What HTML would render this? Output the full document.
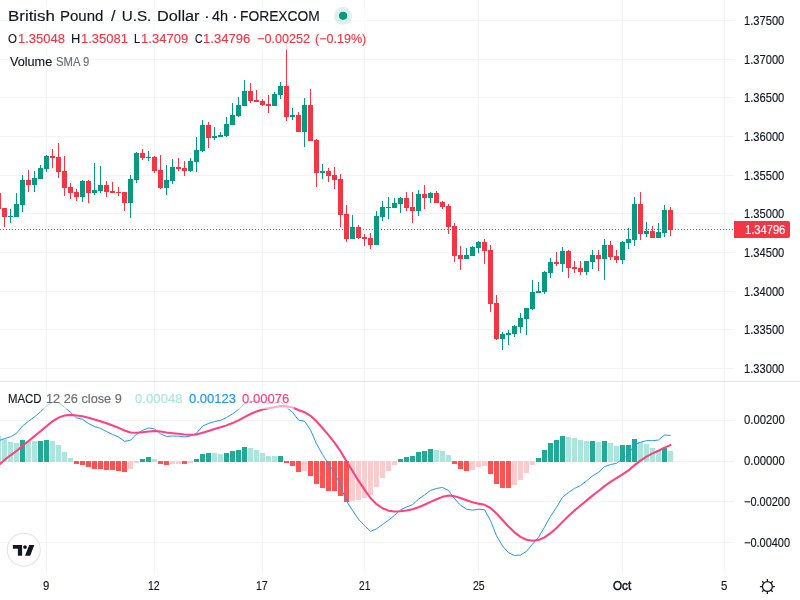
<!DOCTYPE html><html><head><meta charset="utf-8"><title>GBPUSD</title><style>
html,body{margin:0;padding:0;background:#fff;}
body{width:800px;height:600px;overflow:hidden;position:relative;font-family:"Liberation Sans",sans-serif;color:#131722;}
svg{position:absolute;left:0;top:0;}
.t{position:absolute;white-space:pre;transform-origin:0 0;line-height:1;-webkit-text-stroke:0.15px currentColor;}
.ov{position:absolute;background:rgba(255,255,255,0.55);}
</style></head><body>
<svg width="800" height="600" viewBox="0 0 800 600">
<g shape-rendering="crispEdges">
<rect x="0" y="20" width="734" height="1" fill="#f2f3f5"/>
<rect x="0" y="59" width="734" height="1" fill="#f2f3f5"/>
<rect x="0" y="97" width="734" height="1" fill="#f2f3f5"/>
<rect x="0" y="136" width="734" height="1" fill="#f2f3f5"/>
<rect x="0" y="175" width="734" height="1" fill="#f2f3f5"/>
<rect x="0" y="213" width="734" height="1" fill="#f2f3f5"/>
<rect x="0" y="252" width="734" height="1" fill="#f2f3f5"/>
<rect x="0" y="291" width="734" height="1" fill="#f2f3f5"/>
<rect x="0" y="329" width="734" height="1" fill="#f2f3f5"/>
<rect x="0" y="368" width="734" height="1" fill="#f2f3f5"/>
<rect x="0" y="420" width="734" height="1" fill="#f2f3f5"/>
<rect x="0" y="461" width="734" height="1" fill="#f2f3f5"/>
<rect x="0" y="501" width="734" height="1" fill="#f2f3f5"/>
<rect x="0" y="542" width="734" height="1" fill="#f2f3f5"/>
<rect x="46" y="0" width="1" height="572" fill="#f2f3f5"/>
<rect x="154" y="0" width="1" height="572" fill="#f2f3f5"/>
<rect x="262" y="0" width="1" height="572" fill="#f2f3f5"/>
<rect x="364" y="0" width="1" height="572" fill="#f2f3f5"/>
<rect x="478" y="0" width="1" height="572" fill="#f2f3f5"/>
<rect x="622" y="0" width="1" height="572" fill="#f2f3f5"/>
<rect x="724" y="0" width="1" height="572" fill="#f2f3f5"/>
<rect x="0" y="381" width="800" height="1" fill="#e0e3eb"/>
<rect x="-4" y="436" width="5" height="26" fill="#ACE5DC"/>
<rect x="2" y="439" width="5" height="23" fill="#ACE5DC"/>
<rect x="8" y="442" width="5" height="20" fill="#ACE5DC"/>
<rect x="14" y="443" width="5" height="19" fill="#ACE5DC"/>
<rect x="20" y="440" width="5" height="22" fill="#22AB94"/>
<rect x="26" y="441" width="5" height="21" fill="#ACE5DC"/>
<rect x="32" y="441" width="5" height="21" fill="#ACE5DC"/>
<rect x="38" y="441" width="5" height="21" fill="#22AB94"/>
<rect x="44" y="440" width="5" height="22" fill="#22AB94"/>
<rect x="50" y="441" width="5" height="21" fill="#ACE5DC"/>
<rect x="56" y="445" width="5" height="17" fill="#ACE5DC"/>
<rect x="62" y="452" width="5" height="10" fill="#ACE5DC"/>
<rect x="68" y="458" width="5" height="4" fill="#ACE5DC"/>
<rect x="74" y="461" width="5" height="3" fill="#FF5252"/>
<rect x="80" y="461" width="5" height="4" fill="#FF5252"/>
<rect x="86" y="461" width="5" height="6" fill="#FF5252"/>
<rect x="92" y="461" width="5" height="8" fill="#FF5252"/>
<rect x="98" y="461" width="5" height="8" fill="#FF5252"/>
<rect x="104" y="461" width="5" height="9" fill="#FF5252"/>
<rect x="110" y="461" width="5" height="9" fill="#FF5252"/>
<rect x="116" y="461" width="5" height="10" fill="#FF5252"/>
<rect x="122" y="461" width="5" height="11" fill="#FF5252"/>
<rect x="128" y="461" width="5" height="8" fill="#FCCBCD"/>
<rect x="134" y="461" width="5" height="2" fill="#FCCBCD"/>
<rect x="140" y="459" width="5" height="3" fill="#22AB94"/>
<rect x="146" y="457" width="5" height="5" fill="#22AB94"/>
<rect x="152" y="459" width="5" height="3" fill="#ACE5DC"/>
<rect x="158" y="461" width="5" height="3" fill="#FF5252"/>
<rect x="164" y="461" width="5" height="4" fill="#FF5252"/>
<rect x="170" y="461" width="5" height="3" fill="#FCCBCD"/>
<rect x="176" y="461" width="5" height="3" fill="#FCCBCD"/>
<rect x="182" y="461" width="5" height="3" fill="#FF5252"/>
<rect x="188" y="461" width="5" height="2" fill="#FCCBCD"/>
<rect x="194" y="459" width="5" height="3" fill="#22AB94"/>
<rect x="200" y="454" width="5" height="8" fill="#22AB94"/>
<rect x="206" y="453" width="5" height="9" fill="#22AB94"/>
<rect x="212" y="453" width="5" height="9" fill="#ACE5DC"/>
<rect x="218" y="454" width="5" height="8" fill="#ACE5DC"/>
<rect x="224" y="453" width="5" height="9" fill="#22AB94"/>
<rect x="230" y="451" width="5" height="11" fill="#22AB94"/>
<rect x="236" y="450" width="5" height="12" fill="#22AB94"/>
<rect x="242" y="447" width="5" height="15" fill="#22AB94"/>
<rect x="248" y="448" width="5" height="14" fill="#ACE5DC"/>
<rect x="254" y="450" width="5" height="12" fill="#ACE5DC"/>
<rect x="260" y="453" width="5" height="9" fill="#ACE5DC"/>
<rect x="266" y="456" width="5" height="6" fill="#ACE5DC"/>
<rect x="272" y="456" width="5" height="6" fill="#ACE5DC"/>
<rect x="278" y="456" width="5" height="6" fill="#22AB94"/>
<rect x="284" y="461" width="5" height="2" fill="#FF5252"/>
<rect x="290" y="461" width="5" height="5" fill="#FF5252"/>
<rect x="296" y="461" width="5" height="11" fill="#FF5252"/>
<rect x="302" y="461" width="5" height="10" fill="#FCCBCD"/>
<rect x="308" y="461" width="5" height="15" fill="#FF5252"/>
<rect x="314" y="461" width="5" height="23" fill="#FF5252"/>
<rect x="320" y="461" width="5" height="27" fill="#FF5252"/>
<rect x="326" y="461" width="5" height="30" fill="#FF5252"/>
<rect x="332" y="461" width="5" height="30" fill="#FF5252"/>
<rect x="338" y="461" width="5" height="35" fill="#FF5252"/>
<rect x="344" y="461" width="5" height="41" fill="#FF5252"/>
<rect x="350" y="461" width="5" height="40" fill="#FCCBCD"/>
<rect x="356" y="461" width="5" height="39" fill="#FCCBCD"/>
<rect x="362" y="461" width="5" height="37" fill="#FCCBCD"/>
<rect x="368" y="461" width="5" height="34" fill="#FCCBCD"/>
<rect x="374" y="461" width="5" height="26" fill="#FCCBCD"/>
<rect x="380" y="461" width="5" height="17" fill="#FCCBCD"/>
<rect x="386" y="461" width="5" height="10" fill="#FCCBCD"/>
<rect x="392" y="461" width="5" height="4" fill="#FCCBCD"/>
<rect x="398" y="459" width="5" height="3" fill="#22AB94"/>
<rect x="404" y="457" width="5" height="5" fill="#22AB94"/>
<rect x="410" y="456" width="5" height="6" fill="#22AB94"/>
<rect x="416" y="452" width="5" height="10" fill="#22AB94"/>
<rect x="422" y="451" width="5" height="11" fill="#22AB94"/>
<rect x="428" y="449" width="5" height="13" fill="#22AB94"/>
<rect x="434" y="450" width="5" height="12" fill="#ACE5DC"/>
<rect x="440" y="451" width="5" height="11" fill="#ACE5DC"/>
<rect x="446" y="455" width="5" height="7" fill="#ACE5DC"/>
<rect x="452" y="461" width="5" height="3" fill="#FF5252"/>
<rect x="458" y="461" width="5" height="8" fill="#FF5252"/>
<rect x="464" y="461" width="5" height="10" fill="#FF5252"/>
<rect x="470" y="461" width="5" height="9" fill="#FCCBCD"/>
<rect x="476" y="461" width="5" height="6" fill="#FCCBCD"/>
<rect x="482" y="461" width="5" height="5" fill="#FCCBCD"/>
<rect x="488" y="461" width="5" height="13" fill="#FF5252"/>
<rect x="494" y="461" width="5" height="23" fill="#FF5252"/>
<rect x="500" y="461" width="5" height="27" fill="#FF5252"/>
<rect x="506" y="461" width="5" height="27" fill="#FF5252"/>
<rect x="512" y="461" width="5" height="24" fill="#FCCBCD"/>
<rect x="518" y="461" width="5" height="19" fill="#FCCBCD"/>
<rect x="524" y="461" width="5" height="12" fill="#FCCBCD"/>
<rect x="530" y="461" width="5" height="4" fill="#FCCBCD"/>
<rect x="536" y="458" width="5" height="4" fill="#22AB94"/>
<rect x="542" y="450" width="5" height="12" fill="#22AB94"/>
<rect x="548" y="443" width="5" height="19" fill="#22AB94"/>
<rect x="554" y="440" width="5" height="22" fill="#22AB94"/>
<rect x="560" y="436" width="5" height="26" fill="#22AB94"/>
<rect x="566" y="437" width="5" height="25" fill="#ACE5DC"/>
<rect x="572" y="438" width="5" height="24" fill="#ACE5DC"/>
<rect x="578" y="440" width="5" height="22" fill="#ACE5DC"/>
<rect x="584" y="441" width="5" height="21" fill="#ACE5DC"/>
<rect x="590" y="441" width="5" height="21" fill="#22AB94"/>
<rect x="596" y="442" width="5" height="20" fill="#ACE5DC"/>
<rect x="602" y="441" width="5" height="21" fill="#22AB94"/>
<rect x="608" y="443" width="5" height="19" fill="#ACE5DC"/>
<rect x="614" y="446" width="5" height="16" fill="#ACE5DC"/>
<rect x="620" y="445" width="5" height="17" fill="#22AB94"/>
<rect x="626" y="445" width="5" height="17" fill="#22AB94"/>
<rect x="632" y="439" width="5" height="23" fill="#22AB94"/>
<rect x="638" y="442" width="5" height="20" fill="#ACE5DC"/>
<rect x="644" y="444" width="5" height="18" fill="#ACE5DC"/>
<rect x="650" y="448" width="5" height="14" fill="#ACE5DC"/>
<rect x="656" y="450" width="5" height="12" fill="#ACE5DC"/>
<rect x="662" y="448" width="5" height="14" fill="#22AB94"/>
<rect x="668" y="451" width="5" height="11" fill="#ACE5DC"/>
<g fill="#F23645">
</g>
<rect x="-2" y="193" width="1" height="16" fill="#F23645"/>
<rect x="-4" y="193" width="5" height="16" fill="#F23645"/>
<rect x="4" y="208" width="1" height="19" fill="#F23645"/>
<rect x="2" y="208" width="5" height="9" fill="#F23645"/>
<rect x="10" y="209" width="1" height="14" fill="#089981"/>
<rect x="8" y="216" width="5" height="1" fill="#089981"/>
<rect x="16" y="193" width="1" height="24" fill="#089981"/>
<rect x="14" y="204" width="5" height="13" fill="#089981"/>
<rect x="22" y="175" width="1" height="37" fill="#089981"/>
<rect x="20" y="180" width="5" height="25" fill="#089981"/>
<rect x="28" y="170" width="1" height="22" fill="#F23645"/>
<rect x="26" y="180" width="5" height="5" fill="#F23645"/>
<rect x="34" y="171" width="1" height="21" fill="#089981"/>
<rect x="32" y="178" width="5" height="7" fill="#089981"/>
<rect x="40" y="165" width="1" height="14" fill="#089981"/>
<rect x="38" y="168" width="5" height="11" fill="#089981"/>
<rect x="46" y="155" width="1" height="17" fill="#089981"/>
<rect x="44" y="156" width="5" height="13" fill="#089981"/>
<rect x="52" y="149" width="1" height="19" fill="#F23645"/>
<rect x="50" y="156" width="5" height="2" fill="#F23645"/>
<rect x="58" y="143" width="1" height="35" fill="#F23645"/>
<rect x="56" y="157" width="5" height="15" fill="#F23645"/>
<rect x="64" y="156" width="1" height="40" fill="#F23645"/>
<rect x="62" y="171" width="5" height="17" fill="#F23645"/>
<rect x="70" y="183" width="1" height="16" fill="#F23645"/>
<rect x="68" y="187" width="5" height="6" fill="#F23645"/>
<rect x="76" y="189" width="1" height="12" fill="#F23645"/>
<rect x="74" y="192" width="5" height="5" fill="#F23645"/>
<rect x="82" y="180" width="1" height="22" fill="#089981"/>
<rect x="80" y="181" width="5" height="16" fill="#089981"/>
<rect x="88" y="180" width="1" height="23" fill="#F23645"/>
<rect x="86" y="181" width="5" height="12" fill="#F23645"/>
<rect x="94" y="163" width="1" height="32" fill="#089981"/>
<rect x="92" y="190" width="5" height="3" fill="#089981"/>
<rect x="100" y="166" width="1" height="27" fill="#089981"/>
<rect x="98" y="185" width="5" height="6" fill="#089981"/>
<rect x="106" y="181" width="1" height="16" fill="#F23645"/>
<rect x="104" y="185" width="5" height="7" fill="#F23645"/>
<rect x="112" y="182" width="1" height="11" fill="#F23645"/>
<rect x="110" y="191" width="5" height="2" fill="#F23645"/>
<rect x="118" y="187" width="1" height="9" fill="#F23645"/>
<rect x="116" y="192" width="5" height="1" fill="#F23645"/>
<rect x="124" y="192" width="1" height="19" fill="#F23645"/>
<rect x="122" y="192" width="5" height="11" fill="#F23645"/>
<rect x="130" y="175" width="1" height="43" fill="#089981"/>
<rect x="128" y="179" width="5" height="24" fill="#089981"/>
<rect x="136" y="152" width="1" height="31" fill="#089981"/>
<rect x="134" y="153" width="5" height="27" fill="#089981"/>
<rect x="142" y="149" width="1" height="11" fill="#F23645"/>
<rect x="140" y="153" width="5" height="5" fill="#F23645"/>
<rect x="148" y="151" width="1" height="10" fill="#089981"/>
<rect x="146" y="157" width="5" height="1" fill="#089981"/>
<rect x="154" y="156" width="1" height="17" fill="#F23645"/>
<rect x="152" y="157" width="5" height="14" fill="#F23645"/>
<rect x="160" y="155" width="1" height="34" fill="#F23645"/>
<rect x="158" y="170" width="5" height="18" fill="#F23645"/>
<rect x="166" y="165" width="1" height="30" fill="#089981"/>
<rect x="164" y="180" width="5" height="8" fill="#089981"/>
<rect x="172" y="159" width="1" height="25" fill="#089981"/>
<rect x="170" y="167" width="5" height="14" fill="#089981"/>
<rect x="178" y="158" width="1" height="13" fill="#F23645"/>
<rect x="176" y="167" width="5" height="2" fill="#F23645"/>
<rect x="184" y="161" width="1" height="15" fill="#F23645"/>
<rect x="182" y="168" width="5" height="3" fill="#F23645"/>
<rect x="190" y="158" width="1" height="14" fill="#089981"/>
<rect x="188" y="161" width="5" height="10" fill="#089981"/>
<rect x="196" y="137" width="1" height="35" fill="#089981"/>
<rect x="194" y="150" width="5" height="12" fill="#089981"/>
<rect x="202" y="120" width="1" height="32" fill="#089981"/>
<rect x="200" y="125" width="5" height="26" fill="#089981"/>
<rect x="208" y="122" width="1" height="26" fill="#F23645"/>
<rect x="206" y="125" width="5" height="13" fill="#F23645"/>
<rect x="214" y="127" width="1" height="13" fill="#089981"/>
<rect x="212" y="136" width="5" height="2" fill="#089981"/>
<rect x="220" y="132" width="1" height="5" fill="#089981"/>
<rect x="218" y="135" width="5" height="2" fill="#089981"/>
<rect x="226" y="117" width="1" height="20" fill="#089981"/>
<rect x="224" y="124" width="5" height="12" fill="#089981"/>
<rect x="232" y="103" width="1" height="22" fill="#089981"/>
<rect x="230" y="115" width="5" height="10" fill="#089981"/>
<rect x="238" y="97" width="1" height="20" fill="#089981"/>
<rect x="236" y="105" width="5" height="11" fill="#089981"/>
<rect x="244" y="80" width="1" height="26" fill="#089981"/>
<rect x="242" y="91" width="5" height="15" fill="#089981"/>
<rect x="250" y="83" width="1" height="20" fill="#F23645"/>
<rect x="248" y="91" width="5" height="10" fill="#F23645"/>
<rect x="256" y="90" width="1" height="12" fill="#F23645"/>
<rect x="254" y="100" width="5" height="2" fill="#F23645"/>
<rect x="262" y="99" width="1" height="7" fill="#F23645"/>
<rect x="260" y="101" width="5" height="4" fill="#F23645"/>
<rect x="268" y="95" width="1" height="18" fill="#F23645"/>
<rect x="266" y="104" width="5" height="2" fill="#F23645"/>
<rect x="274" y="92" width="1" height="14" fill="#089981"/>
<rect x="272" y="94" width="5" height="12" fill="#089981"/>
<rect x="280" y="82" width="1" height="17" fill="#089981"/>
<rect x="278" y="86" width="5" height="9" fill="#089981"/>
<rect x="286" y="50" width="1" height="71" fill="#F23645"/>
<rect x="286" y="38" width="1" height="12" fill="#F23645" opacity="0.45"/>
<rect x="284" y="86" width="5" height="31" fill="#F23645"/>
<rect x="292" y="108" width="1" height="12" fill="#089981"/>
<rect x="290" y="115" width="5" height="2" fill="#089981"/>
<rect x="298" y="112" width="1" height="20" fill="#F23645"/>
<rect x="296" y="115" width="5" height="17" fill="#F23645"/>
<rect x="304" y="98" width="1" height="49" fill="#089981"/>
<rect x="302" y="105" width="5" height="27" fill="#089981"/>
<rect x="310" y="89" width="1" height="52" fill="#F23645"/>
<rect x="308" y="105" width="5" height="36" fill="#F23645"/>
<rect x="316" y="139" width="1" height="48" fill="#F23645"/>
<rect x="314" y="140" width="5" height="33" fill="#F23645"/>
<rect x="322" y="164" width="1" height="15" fill="#089981"/>
<rect x="320" y="171" width="5" height="2" fill="#089981"/>
<rect x="328" y="168" width="1" height="14" fill="#F23645"/>
<rect x="326" y="171" width="5" height="5" fill="#F23645"/>
<rect x="334" y="167" width="1" height="22" fill="#F23645"/>
<rect x="332" y="175" width="5" height="5" fill="#F23645"/>
<rect x="340" y="174" width="1" height="53" fill="#F23645"/>
<rect x="338" y="179" width="5" height="36" fill="#F23645"/>
<rect x="346" y="205" width="1" height="37" fill="#F23645"/>
<rect x="344" y="214" width="5" height="25" fill="#F23645"/>
<rect x="352" y="215" width="1" height="24" fill="#089981"/>
<rect x="350" y="227" width="5" height="12" fill="#089981"/>
<rect x="358" y="225" width="1" height="14" fill="#F23645"/>
<rect x="356" y="227" width="5" height="11" fill="#F23645"/>
<rect x="364" y="234" width="1" height="12" fill="#F23645"/>
<rect x="362" y="237" width="5" height="2" fill="#F23645"/>
<rect x="370" y="233" width="1" height="16" fill="#F23645"/>
<rect x="368" y="238" width="5" height="7" fill="#F23645"/>
<rect x="376" y="211" width="1" height="34" fill="#089981"/>
<rect x="374" y="216" width="5" height="29" fill="#089981"/>
<rect x="382" y="201" width="1" height="20" fill="#089981"/>
<rect x="380" y="207" width="5" height="10" fill="#089981"/>
<rect x="388" y="197" width="1" height="22" fill="#089981"/>
<rect x="386" y="207" width="5" height="1" fill="#089981"/>
<rect x="394" y="198" width="1" height="10" fill="#089981"/>
<rect x="392" y="203" width="5" height="5" fill="#089981"/>
<rect x="400" y="197" width="1" height="16" fill="#089981"/>
<rect x="398" y="198" width="5" height="6" fill="#089981"/>
<rect x="406" y="192" width="1" height="19" fill="#F23645"/>
<rect x="404" y="198" width="5" height="10" fill="#F23645"/>
<rect x="412" y="192" width="1" height="31" fill="#F23645"/>
<rect x="410" y="207" width="5" height="4" fill="#F23645"/>
<rect x="418" y="190" width="1" height="26" fill="#089981"/>
<rect x="416" y="194" width="5" height="17" fill="#089981"/>
<rect x="424" y="185" width="1" height="24" fill="#F23645"/>
<rect x="422" y="194" width="5" height="4" fill="#F23645"/>
<rect x="430" y="192" width="1" height="11" fill="#089981"/>
<rect x="428" y="193" width="5" height="5" fill="#089981"/>
<rect x="436" y="191" width="1" height="12" fill="#F23645"/>
<rect x="434" y="193" width="5" height="10" fill="#F23645"/>
<rect x="442" y="201" width="1" height="8" fill="#F23645"/>
<rect x="440" y="202" width="5" height="5" fill="#F23645"/>
<rect x="448" y="204" width="1" height="30" fill="#F23645"/>
<rect x="446" y="206" width="5" height="21" fill="#F23645"/>
<rect x="454" y="223" width="1" height="39" fill="#F23645"/>
<rect x="452" y="226" width="5" height="30" fill="#F23645"/>
<rect x="460" y="246" width="1" height="24" fill="#F23645"/>
<rect x="458" y="255" width="5" height="4" fill="#F23645"/>
<rect x="466" y="248" width="1" height="11" fill="#089981"/>
<rect x="464" y="255" width="5" height="4" fill="#089981"/>
<rect x="472" y="246" width="1" height="10" fill="#089981"/>
<rect x="470" y="247" width="5" height="9" fill="#089981"/>
<rect x="478" y="241" width="1" height="12" fill="#089981"/>
<rect x="476" y="242" width="5" height="6" fill="#089981"/>
<rect x="484" y="239" width="1" height="25" fill="#F23645"/>
<rect x="482" y="242" width="5" height="9" fill="#F23645"/>
<rect x="490" y="245" width="1" height="67" fill="#F23645"/>
<rect x="488" y="250" width="5" height="54" fill="#F23645"/>
<rect x="496" y="295" width="1" height="45" fill="#F23645"/>
<rect x="494" y="303" width="5" height="36" fill="#F23645"/>
<rect x="502" y="332" width="1" height="18" fill="#089981"/>
<rect x="500" y="334" width="5" height="5" fill="#089981"/>
<rect x="508" y="330" width="1" height="15" fill="#089981"/>
<rect x="506" y="333" width="5" height="2" fill="#089981"/>
<rect x="514" y="325" width="1" height="12" fill="#089981"/>
<rect x="512" y="326" width="5" height="8" fill="#089981"/>
<rect x="520" y="313" width="1" height="20" fill="#089981"/>
<rect x="518" y="318" width="5" height="9" fill="#089981"/>
<rect x="526" y="308" width="1" height="27" fill="#089981"/>
<rect x="524" y="308" width="5" height="11" fill="#089981"/>
<rect x="532" y="280" width="1" height="30" fill="#089981"/>
<rect x="530" y="292" width="5" height="17" fill="#089981"/>
<rect x="538" y="282" width="1" height="11" fill="#089981"/>
<rect x="536" y="291" width="5" height="2" fill="#089981"/>
<rect x="544" y="271" width="1" height="23" fill="#089981"/>
<rect x="542" y="272" width="5" height="20" fill="#089981"/>
<rect x="550" y="258" width="1" height="20" fill="#089981"/>
<rect x="548" y="262" width="5" height="11" fill="#089981"/>
<rect x="556" y="252" width="1" height="14" fill="#F23645"/>
<rect x="554" y="262" width="5" height="2" fill="#F23645"/>
<rect x="562" y="247" width="1" height="25" fill="#089981"/>
<rect x="560" y="251" width="5" height="13" fill="#089981"/>
<rect x="568" y="250" width="1" height="28" fill="#F23645"/>
<rect x="566" y="251" width="5" height="17" fill="#F23645"/>
<rect x="574" y="261" width="1" height="12" fill="#F23645"/>
<rect x="572" y="267" width="5" height="2" fill="#F23645"/>
<rect x="580" y="261" width="1" height="14" fill="#F23645"/>
<rect x="578" y="268" width="5" height="4" fill="#F23645"/>
<rect x="586" y="261" width="1" height="14" fill="#089981"/>
<rect x="584" y="261" width="5" height="11" fill="#089981"/>
<rect x="592" y="250" width="1" height="19" fill="#089981"/>
<rect x="590" y="255" width="5" height="7" fill="#089981"/>
<rect x="598" y="250" width="1" height="21" fill="#F23645"/>
<rect x="596" y="255" width="5" height="4" fill="#F23645"/>
<rect x="604" y="239" width="1" height="41" fill="#089981"/>
<rect x="602" y="245" width="5" height="14" fill="#089981"/>
<rect x="610" y="241" width="1" height="19" fill="#F23645"/>
<rect x="608" y="245" width="5" height="12" fill="#F23645"/>
<rect x="616" y="250" width="1" height="13" fill="#F23645"/>
<rect x="614" y="256" width="5" height="4" fill="#F23645"/>
<rect x="622" y="241" width="1" height="23" fill="#089981"/>
<rect x="620" y="242" width="5" height="18" fill="#089981"/>
<rect x="628" y="228" width="1" height="21" fill="#089981"/>
<rect x="626" y="239" width="5" height="4" fill="#089981"/>
<rect x="634" y="197" width="1" height="49" fill="#089981"/>
<rect x="632" y="204" width="5" height="36" fill="#089981"/>
<rect x="640" y="192" width="1" height="48" fill="#F23645"/>
<rect x="638" y="204" width="5" height="30" fill="#F23645"/>
<rect x="646" y="222" width="1" height="15" fill="#089981"/>
<rect x="644" y="231" width="5" height="3" fill="#089981"/>
<rect x="652" y="226" width="1" height="12" fill="#F23645"/>
<rect x="650" y="231" width="5" height="7" fill="#F23645"/>
<rect x="658" y="223" width="1" height="15" fill="#089981"/>
<rect x="656" y="232" width="5" height="6" fill="#089981"/>
<rect x="664" y="205" width="1" height="32" fill="#089981"/>
<rect x="662" y="210" width="5" height="23" fill="#089981"/>
<rect x="670" y="207" width="1" height="29" fill="#F23645"/>
<rect x="668" y="210" width="5" height="20" fill="#F23645"/>
</g>
<line x1="0" y1="229.5" x2="734" y2="229.5" stroke="#F23645" stroke-width="1" stroke-dasharray="1 2" stroke-dashoffset="0" shape-rendering="crispEdges"/>
<path d="M-7.50,443.23 L-1.50,440.86 L4.50,438.49 L10.50,436.88 L16.50,433.37 L22.50,425.91 L28.50,421.29 L34.50,416.86 L40.50,411.79 L46.50,405.86 L52.50,402.04 L58.50,402.66 L64.50,407.16 L70.50,412.33 L76.50,417.78 L82.50,419.39 L88.50,423.43 L94.50,426.59 L100.50,428.41 L106.50,431.46 L112.50,434.39 L118.50,436.99 L124.50,441.39 L130.50,440.23 L136.50,434.10 L142.50,430.44 L148.50,427.91 L154.50,429.03 L160.50,433.84 L166.50,436.43 L172.50,436.02 L178.50,436.18 L184.50,437.01 L190.50,436.04 L196.50,433.25 L202.50,426.13 L208.50,423.47 L214.50,421.59 L220.50,420.36 L226.50,417.54 L232.50,413.94 L238.50,409.55 L244.50,403.75 L250.50,401.75 L256.50,401.06 L262.50,401.83 L268.50,403.31 L274.50,402.81 L280.50,401.40 L286.50,407.27 L292.50,412.26 L298.50,420.07 L304.50,421.21 L310.50,429.88 L316.50,443.74 L322.50,454.57 L328.50,463.97 L334.50,472.14 L340.50,485.74 L346.50,501.14 L352.50,510.44 L358.50,519.25 L364.50,525.70 L370.50,531.27 L376.50,528.95 L382.50,524.47 L388.50,520.23 L394.50,515.39 L400.50,509.92 L406.50,506.97 L412.50,504.75 L418.50,499.16 L424.50,494.96 L430.50,490.44 L436.50,488.45 L442.50,487.41 L448.50,490.48 L454.50,498.63 L460.50,505.21 L466.50,509.23 L472.50,510.14 L478.50,509.24 L484.50,509.66 L490.50,520.55 L496.50,535.73 L502.50,545.93 L508.50,552.73 L514.50,555.55 L520.50,555.00 L526.50,551.39 L532.50,544.17 L538.50,537.36 L544.50,527.16 L550.50,516.31 L556.50,507.39 L562.50,497.35 L568.50,492.41 L574.50,488.40 L580.50,485.56 L586.50,480.96 L592.50,475.86 L598.50,472.32 L604.50,466.69 L610.50,464.51 L616.50,463.39 L622.50,458.92 L628.50,454.80 L634.50,444.30 L640.50,442.34 L646.50,440.60 L652.50,440.71 L658.50,439.98 L664.50,435.03 L670.50,435.43" fill="none" stroke="#2196F3" stroke-width="1" stroke-linejoin="round"/>
<path d="M-7.50,470.62 L-1.50,465.27 L4.50,459.91 L10.50,455.30 L16.50,450.92 L22.50,445.91 L28.50,440.99 L34.50,436.16 L40.50,431.29 L46.50,426.20 L52.50,421.37 L58.50,417.63 L64.50,415.53 L70.50,414.89 L76.50,415.47 L82.50,416.26 L88.50,417.69 L94.50,419.47 L100.50,421.26 L106.50,423.30 L112.50,425.52 L118.50,427.81 L124.50,430.53 L130.50,432.47 L136.50,432.79 L142.50,432.32 L148.50,431.44 L154.50,430.96 L160.50,431.53 L166.50,432.51 L172.50,433.22 L178.50,433.81 L184.50,434.45 L190.50,434.77 L196.50,434.46 L202.50,432.80 L208.50,430.93 L214.50,429.06 L220.50,427.32 L226.50,425.36 L232.50,423.08 L238.50,420.37 L244.50,417.05 L250.50,413.99 L256.50,411.40 L262.50,409.49 L268.50,408.25 L274.50,407.16 L280.50,406.01 L286.50,406.26 L292.50,407.46 L298.50,409.98 L304.50,412.23 L310.50,415.76 L316.50,421.35 L322.50,428.00 L328.50,435.19 L334.50,442.58 L340.50,451.21 L346.50,461.20 L352.50,471.05 L358.50,480.69 L364.50,489.69 L370.50,498.01 L376.50,504.19 L382.50,508.25 L388.50,510.65 L394.50,511.59 L400.50,511.26 L406.50,510.40 L412.50,509.27 L418.50,507.25 L424.50,504.79 L430.50,501.92 L436.50,499.23 L442.50,496.86 L448.50,495.59 L454.50,496.20 L460.50,498.00 L466.50,500.24 L472.50,502.22 L478.50,503.63 L484.50,504.83 L490.50,507.98 L496.50,513.53 L502.50,520.01 L508.50,526.55 L514.50,532.35 L520.50,536.88 L526.50,539.78 L532.50,540.66 L538.50,540.00 L544.50,537.43 L550.50,533.21 L556.50,528.04 L562.50,521.90 L568.50,516.01 L574.50,510.48 L580.50,505.50 L586.50,500.59 L592.50,495.65 L598.50,490.98 L604.50,486.12 L610.50,481.80 L616.50,478.12 L622.50,474.28 L628.50,470.38 L634.50,465.17 L640.50,460.60 L646.50,456.60 L652.50,453.42 L658.50,450.74 L664.50,447.59 L670.50,445.16" fill="none" stroke="#FF4081" stroke-width="2.05" stroke-linejoin="round" stroke-linecap="round"/>
</svg>
<div class="ov" style="left:6px;top:6px;width:360px;height:24px"></div>
<div class="ov" style="left:6px;top:30px;width:364px;height:20px"></div>
<div class="ov" style="left:6px;top:52px;width:86px;height:20px"></div>
<div class="ov" style="left:6px;top:389px;width:288px;height:20px"></div>
<svg width="800" height="600" viewBox="0 0 800 600">
<circle cx="343.1" cy="15.85" r="9" fill="#089981" fill-opacity="0.14"/>
<circle cx="343.1" cy="15.85" r="4.1" fill="#089981"/>
<path d="M734,221 H788 a2,2 0 0 1 2,2 V236 a2,2 0 0 1 -2,2 H734 Z" fill="#F23645"/>
<circle cx="23.75" cy="549.75" r="16.5" fill="#fff" stroke="#e3e4e8" stroke-width="1.2"/>
<g fill="#131722">
<path d="M12.9,545 H22.1 V555.8 H17.9 V548.75 H12.9 Z"/>
<circle cx="25" cy="547.1" r="1.85"/>
<path d="M29.2,545 H34.3 L30.2,555.8 H25 Z"/>
</g>
<g stroke="#131722" stroke-width="1.25" fill="none" stroke-linecap="butt">
<circle cx="767.4" cy="586.5" r="4.95"/>
<path d="M767.4,579 v2.4 M767.4,591.6 v2.4 M759.9,586.5 h2.4 M772.5,586.5 h2.4 M762.1,581.2 l1.5,1.5 M771.2,590.3 l1.5,1.5 M772.7,581.2 l-1.5,1.5 M763.6,590.3 l-1.5,1.5"/>
</g>
</svg>
<div style="position:absolute;left:0;top:0;width:800px;height:600px;will-change:transform">
<div class="t" id="ti1" style="left:7.86px;top:8.1px;font-size:15.2px;color:#131722;transform:scaleX(1.1125);">British</div>
<div class="t" id="ti2" style="left:60.01px;top:8.1px;font-size:15.2px;color:#131722;transform:scaleX(0.9880);">Pound</div>
<div class="t" id="ti3" style="left:111.0px;top:8.1px;font-size:15.2px;color:#131722;transform:scaleX(1.0824);">/</div>
<div class="t" id="ti4" style="left:121.75px;top:8.1px;font-size:15.2px;color:#131722;">U.S.</div>
<div class="t" id="ti5" style="left:156.66px;top:8.1px;font-size:15.2px;color:#131722;transform:scaleX(1.0719);">Dollar</div>
<div class="t" id="ti6" style="left:203.52px;top:8.1px;font-size:15.2px;color:#131722;transform:scaleX(1.1500);">·</div>
<div class="t" id="ti7" style="left:212.36px;top:8.1px;font-size:15.2px;color:#131722;transform:scaleX(0.9524);">4h</div>
<div class="t" id="ti8" style="left:231.52px;top:8.1px;font-size:15.2px;color:#131722;transform:scaleX(1.1500);">·</div>
<div class="t" id="ti9" style="left:240.36px;top:8.1px;font-size:15.2px;color:#131722;transform:scaleX(0.9091);">FOREXCOM</div>
<div class="t" id="o" style="left:7.83px;top:32.95px;font-size:12.3px;color:#131722;transform:scaleX(0.9353);">O</div>
<div class="t" id="ov" style="left:18.14px;top:32.95px;font-size:12.3px;color:#F23645;transform:scaleX(1.0558);">1.35048</div>
<div class="t" id="h" style="left:70.56px;top:32.95px;font-size:12.3px;color:#131722;transform:scaleX(1.0429);">H</div>
<div class="t" id="hv" style="left:80.54px;top:32.95px;font-size:12.3px;color:#F23645;transform:scaleX(1.0558);">1.35081</div>
<div class="t" id="l" style="left:134.09px;top:32.95px;font-size:12.3px;color:#131722;transform:scaleX(0.9091);">L</div>
<div class="t" id="lv" style="left:141.34px;top:32.95px;font-size:12.3px;color:#F23645;transform:scaleX(1.0605);">1.34709</div>
<div class="t" id="c" style="left:195.08px;top:32.95px;font-size:12.3px;color:#131722;transform:scaleX(0.8500);">C</div>
<div class="t" id="cv" style="left:203.34px;top:32.95px;font-size:12.3px;color:#F23645;transform:scaleX(1.0605);">1.34796</div>
<div class="t" id="chg" style="left:257.49px;top:32.95px;font-size:12.3px;color:#F23645;transform:scaleX(1.0297);">−0.00252</div>
<div class="t" id="pct" style="left:314.98px;top:32.95px;font-size:12.3px;color:#F23645;transform:scaleX(1.0205);">(−0.19%)</div>
<div class="t" id="vol" style="left:9.75px;top:56.12px;font-size:12.8px;color:#131722;transform:scaleX(0.9882);">Volume</div>
<div class="t" id="sma" style="left:55.84px;top:56.12px;font-size:12.8px;color:#6a6d78;transform:scaleX(0.8828);">SMA 9</div>
<div class="t" id="macd" style="left:8.07px;top:392.94px;font-size:12.3px;color:#131722;transform:scaleX(0.9281);">MACD</div>
<div class="t" id="mp" style="left:45.86px;top:392.94px;font-size:12.3px;color:#6a6d78;transform:scaleX(1.0364);">12 26 close 9</div>
<div class="t" id="m1" style="left:135.46px;top:392.94px;font-size:12.3px;color:#ACE5DC;transform:scaleX(1.0713);">0.00048</div>
<div class="t" id="m2" style="left:188.87px;top:392.94px;font-size:12.3px;color:#2196F3;transform:scaleX(1.0598);">0.00123</div>
<div class="t" id="m3" style="left:242.07px;top:392.94px;font-size:12.3px;color:#FF4081;transform:scaleX(1.0609);">0.00076</div>
<div class="t" id="p0" style="left:743.89px;top:15.2px;font-size:12.3px;color:#131722;transform:scaleX(0.9070);">1.37500</div>
<div class="t" id="p1" style="left:743.89px;top:54.2px;font-size:12.3px;color:#131722;transform:scaleX(0.9070);">1.37000</div>
<div class="t" id="p2" style="left:743.89px;top:92.2px;font-size:12.3px;color:#131722;transform:scaleX(0.9070);">1.36500</div>
<div class="t" id="p3" style="left:743.89px;top:131.2px;font-size:12.3px;color:#131722;transform:scaleX(0.9070);">1.36000</div>
<div class="t" id="p4" style="left:743.89px;top:170.2px;font-size:12.3px;color:#131722;transform:scaleX(0.9070);">1.35500</div>
<div class="t" id="p5" style="left:743.89px;top:208.2px;font-size:12.3px;color:#131722;transform:scaleX(0.9070);">1.35000</div>
<div class="t" id="p6" style="left:743.89px;top:247.2px;font-size:12.3px;color:#131722;transform:scaleX(0.9070);">1.34500</div>
<div class="t" id="p7" style="left:743.89px;top:286.2px;font-size:12.3px;color:#131722;transform:scaleX(0.9070);">1.34000</div>
<div class="t" id="p8" style="left:743.89px;top:324.2px;font-size:12.3px;color:#131722;transform:scaleX(0.9070);">1.33500</div>
<div class="t" id="p9" style="left:743.89px;top:363.2px;font-size:12.3px;color:#131722;transform:scaleX(0.9070);">1.33000</div>
<div class="t" id="pl" style="left:744.59px;top:224.2px;font-size:12.3px;color:#fff;transform:scaleX(0.9070);">1.34796</div>
<div class="t" id="a0" style="left:743.54px;top:414.2px;font-size:12.3px;color:#131722;transform:scaleX(0.9195);">0.00200</div>
<div class="t" id="a1" style="left:743.54px;top:455.2px;font-size:12.3px;color:#131722;transform:scaleX(0.9195);">0.00000</div>
<div class="t" id="a2" style="left:744.3px;top:496.2px;font-size:12.3px;color:#131722;transform:scaleX(0.8916);">−0.00200</div>
<div class="t" id="a3" style="left:744.3px;top:537.2px;font-size:12.3px;color:#131722;transform:scaleX(0.8916);">−0.00400</div>
<div class="t" id="t9" style="left:43.29px;top:579.94px;font-size:12.3px;color:#131722;transform:scaleX(0.9217);">9</div>
<div class="t" id="t12" style="left:148.39px;top:579.94px;font-size:12.3px;color:#131722;transform:scaleX(0.8583);">12</div>
<div class="t" id="t17" style="left:256.39px;top:579.94px;font-size:12.3px;color:#131722;transform:scaleX(0.8583);">17</div>
<div class="t" id="t21" style="left:358.84px;top:579.94px;font-size:12.3px;color:#131722;transform:scaleX(0.8240);">21</div>
<div class="t" id="t25" style="left:472.58px;top:579.94px;font-size:12.3px;color:#131722;transform:scaleX(0.8471);">25</div>
<div class="t" id="t5" style="left:721.19px;top:579.94px;font-size:12.3px;color:#131722;transform:scaleX(0.9217);">5</div>
<div class="t" id="tOct" style="left:613.26px;top:579.94px;font-size:12.3px;color:#131722;-webkit-text-stroke:0.5px currentColor;transform:scaleX(0.9474);">Oct</div>
</div>
</body></html>
